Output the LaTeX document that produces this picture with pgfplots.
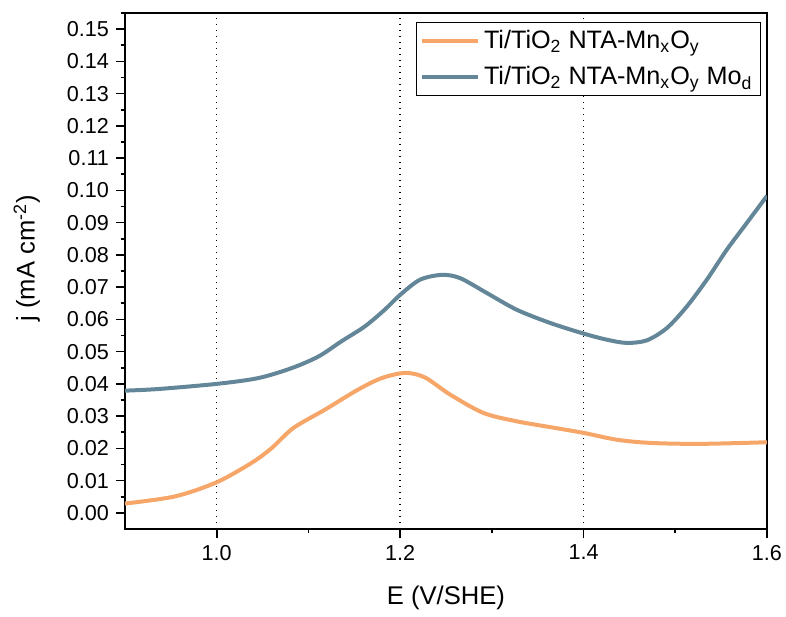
\documentclass[border=0pt]{standalone}
\usepackage{fontspec}
\setmainfont{Liberation Sans}
\usepackage{pgfplots}
\pgfplotsset{compat=1.18}
\definecolor{corange}{RGB}{245,166,104}
\definecolor{cblue}{RGB}{99,135,152}
\begin{document}
\begin{tikzpicture}
\begin{axis}[
  at={(0,0)}, anchor=south west,
  scale only axis, width=321pt, height=258pt,
  xmin=0.9, xmax=1.6, ymin=-0.005, ymax=0.155,
  xtick={1.0,1.2,1.4,1.6},
  ytick={0,0.01,...,0.155},
  minor x tick num=1, minor y tick num=1,
  tick pos=left, tick align=outside,
  major tick length=4.5pt, minor tick length=2.2pt,
  every tick/.style={black, line width=0.8pt},
  axis line style={line width=1pt},
  xmajorgrids, grid style={black, dash pattern=on 0.7pt off 2.3pt, line width=0.7pt},
  /pgf/number format/assume math mode=true,
  xticklabel style={/pgf/number format/.cd, fixed, fixed zerofill, precision=1},
  yticklabel style={/pgf/number format/.cd, fixed, fixed zerofill, precision=2},
  ticklabel style={font=\fontsize{10.8}{12}\selectfont},
  xlabel={E (V/SHE)}, ylabel={j (mA cm\textsuperscript{-2})},
  label style={font=\fontsize{12.8}{14}\selectfont},
  xlabel style={at={(axis description cs:0.5,-0.1337)}, anchor=center},
  ylabel style={at={(axis description cs:-0.153,0.525)}, anchor=center},
  legend style={at={(rel axis cs:0.9907,0.983)}, anchor=north east,
    draw=black, line width=0.5pt, font=\fontsize{12.6}{14}\selectfont,
    row sep=3.5pt, inner sep=2pt},
  legend cell align=left,
  legend image code/.code={\draw[#1, line width=2pt] (0pt,0pt) -- (28pt,0pt);},
]
\addplot[corange, line width=2pt, smooth, tension=0.5] table {
0.900 0.0029
0.9545 0.0051
1.000 0.0095
1.038 0.0155
1.060 0.0201
1.0835 0.0263
1.118 0.0320
1.154 0.0382
1.180 0.0418
1.2055 0.0434
1.227 0.0420
1.2544 0.0367
1.2907 0.0310
1.327 0.0284
1.3635 0.0266
1.400 0.0248
1.436 0.0227
1.4725 0.0217
1.527 0.0214
1.600 0.0219
};
\addlegendentry{Ti/TiO\textsubscript{2} NTA-Mn\textsubscript{x}O\textsubscript{y}}
\addplot[cblue, line width=2pt, smooth, tension=0.5] table {
0.900 0.0379
0.936 0.0384
1.000 0.0400
1.0454 0.0418
1.0818 0.0449
1.111 0.0485
1.136 0.0532
1.1614 0.0578
1.1832 0.0630
1.200 0.0676
1.2217 0.0723
1.2454 0.0738
1.2653 0.0728
1.2944 0.0682
1.327 0.0630
1.3635 0.0589
1.400 0.0556
1.4254 0.0537
1.4472 0.0527
1.469 0.0535
1.4908 0.0573
1.5126 0.0640
1.5344 0.0723
1.5562 0.0816
1.578 0.0899
1.600 0.0983
};
\addlegendentry{Ti/TiO\textsubscript{2} NTA-Mn\textsubscript{x}O\textsubscript{y} Mo\textsubscript{d}}
\end{axis}
\pgfresetboundingbox
\path[use as bounding box] (-62.5pt,-43.5pt) rectangle (330.5pt,264.5pt);
\end{tikzpicture}
\end{document}
